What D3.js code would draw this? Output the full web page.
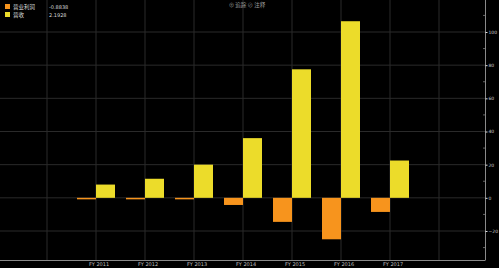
<!DOCTYPE html>
<html>
<head>
<meta charset="utf-8">
<script src="https://cdn.jsdelivr.net/npm/d3@7"></script>
<style>
  html, body { margin: 0; padding: 0; background: #000; }
  svg { display: block; }
</style>
</head>
<body>
<svg id="chart" width="499" height="268"></svg>
<script>
// categories (grid runs one step beyond each side)
const gridYears = ["FY 2010", "FY 2011", "FY 2012", "FY 2013", "FY 2014", "FY 2015", "FY 2016", "FY 2017", "FY 2018"];
const years = ["FY 2011", "FY 2012", "FY 2013", "FY 2014", "FY 2015", "FY 2016", "FY 2017"];

// series
const opProfit = [-0.9, -0.8, -0.8, -4.3, -14.5, -25, -8.5];   // 营业利润
const revenue = [8, 11.5, 20, 36, 77.5, 106.5, 22.5];          // 营收

const yTicks = [-20, 0, 20, 40, 60, 80, 100];
const legendItems = [
  { name: "营业利润", value: "-0.8838", color: "#f7941d" },
  { name: "营收", value: "2.1928", color: "#ecdc2a" }
];

const svg = d3.select("#chart");
const frameRight = 485, frameBottom = 260;

const x = d3.scalePoint()
  .domain(gridYears)
  .range([47, 439]);

const y = d3.scaleLinear()
  .domain([-20, 100])
  .range([231, 32]);

const barW = 19;

// grid
svg.append("g")
  .selectAll("line")
  .data(yTicks)
  .enter()
  .append("line")
  .attr("x1", 0).attr("x2", frameRight)
  .attr("y1", d => y(d)).attr("y2", d => y(d))
  .attr("stroke", "#2a2a2a").attr("stroke-width", 1);

svg.append("g")
  .selectAll("line")
  .data(gridYears)
  .enter()
  .append("line")
  .attr("x1", d => x(d)).attr("x2", d => x(d))
  .attr("y1", 0).attr("y2", frameBottom)
  .attr("stroke", "#2a2a2a").attr("stroke-width", 1);

// bars
svg.append("g")
  .selectAll("rect")
  .data(years)
  .enter()
  .append("rect")
  .attr("x", d => x(d) - barW)
  .attr("width", barW)
  .attr("y", (d, i) => Math.min(y(0), y(opProfit[i])))
  .attr("height", (d, i) => Math.max(1.5, Math.abs(y(opProfit[i]) - y(0))))
  .attr("fill", "#f7941d");

svg.append("g")
  .selectAll("rect")
  .data(years)
  .enter()
  .append("rect")
  .attr("x", d => x(d))
  .attr("width", barW)
  .attr("y", (d, i) => y(revenue[i]))
  .attr("height", (d, i) => y(0) - y(revenue[i]))
  .attr("fill", "#ecdc2a");

// frame
svg.append("line")
  .attr("x1", frameRight + 0.5).attr("x2", frameRight + 0.5)
  .attr("y1", 0).attr("y2", frameBottom)
  .attr("stroke", "#8a8a8a");
svg.append("line")
  .attr("x1", 0).attr("x2", frameRight + 0.5)
  .attr("y1", frameBottom + 0.5).attr("y2", frameBottom + 0.5)
  .attr("stroke", "#8a8a8a");

// right axis
const yAxis = svg.append("g")
  .attr("transform", `translate(${frameRight + 0.5},0)`)
  .call(d3.axisRight(y).tickValues(yTicks).tickSize(2).tickPadding(1).tickFormat(d3.format("d")));
yAxis.select(".domain").remove();
yAxis.selectAll("line").attr("stroke", "#ddd");
yAxis.selectAll("text")
  .attr("fill", "#cfcfcf")
  .style("font", "4.5px 'DejaVu Sans', sans-serif");

// minor ticks
svg.append("g")
  .selectAll("line")
  .data(d3.range(-30, 120, 10).filter(v => v % 20 !== 0))
  .enter()
  .append("line")
  .attr("x1", frameRight - 2).attr("x2", frameRight)
  .attr("y1", d => y(d)).attr("y2", d => y(d))
  .attr("stroke", "#666");

// bottom labels
svg.append("g")
  .selectAll("text")
  .data(years)
  .enter()
  .append("text")
  .attr("x", d => x(d) + 3)
  .attr("y", 266)
  .attr("text-anchor", "middle")
  .attr("fill", "#bdbdbd")
  .style("font", "5px 'DejaVu Sans', sans-serif")
  .text(d => d);

// legend
const leg = svg.append("g");
legendItems.forEach((item, i) => {
  const row = leg.append("g").attr("transform", `translate(5, ${4 + i * 8})`);
  row.append("rect").attr("width", 5).attr("height", 5).attr("fill", item.color);
  row.append("text").attr("x", 8).attr("y", 4.8)
    .attr("fill", "#d8d8d8").style("font", "5.5px 'Noto Sans CJK SC', sans-serif")
    .text(item.name);
  row.append("text").attr("x", 44).attr("y", 4.8)
    .attr("fill", "#d8d8d8").style("font", "5px 'DejaVu Sans', sans-serif")
    .text(item.value);
});

// toolbar text
svg.append("text")
  .attr("x", 247).attr("y", 7)
  .attr("text-anchor", "middle")
  .attr("fill", "#9a9a9a")
  .style("font", "5.5px 'Noto Sans CJK SC', sans-serif")
  .text("⊕ 追踪  ⊘ 注释");
</script>
</body>
</html>
